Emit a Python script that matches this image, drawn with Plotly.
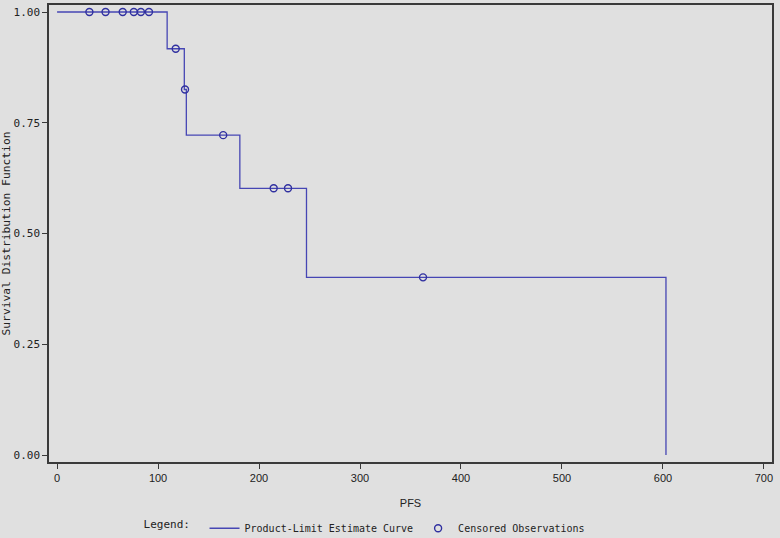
import plotly.graph_objects as go

# Kaplan-Meier step curve (event times and survival estimates)
step_times = [0, 109, 126, 128, 181, 247, 603]
step_surv = [1.0, 0.917, 0.825, 0.722, 0.602, 0.401, 0.0]

# Censored observations
cens_times = [32, 48, 65, 76, 83, 91, 117.5, 126.7, 164.5, 214.5, 228.7, 362.4]
cens_surv = [1.0, 1.0, 1.0, 1.0, 1.0, 1.0, 0.917, 0.825, 0.722, 0.602, 0.602, 0.401]

x_ticks = [0, 100, 200, 300, 400, 500, 600, 700]
y_ticks = [0.0, 0.25, 0.5, 0.75, 1.0]
y_labels = ["0.00", "0.25", "0.50", "0.75", "1.00"]

line_color = "#4646B4"
marker_color = "#3030A0"
bg = "#E0E0E0"
frame = "#3A3A3A"
font_mono = "DejaVu Sans Mono, Liberation Mono, monospace"
font_sans = "Liberation Sans, Arial, sans-serif"

fig = go.Figure()
fig.add_trace(go.Scatter(
    x=step_times, y=step_surv, mode="lines", line_shape="hv",
    line=dict(color=line_color, width=1.3),
    name="Product-Limit Estimate Curve"))
fig.add_trace(go.Scatter(
    x=cens_times, y=cens_surv, mode="markers",
    marker=dict(symbol="circle-open", size=7, color=marker_color, line=dict(width=1.4)),
    name="Censored Observations"))

fig.update_layout(
    width=780, height=538,
    margin=dict(l=49, r=8, t=5, b=76, autoexpand=False),
    paper_bgcolor=bg, plot_bgcolor=bg,
    font=dict(family=font_mono, size=11, color="#222222"),
    showlegend=True,
    legend=dict(orientation="h", x=0.128, y=-0.145, xanchor="left", yanchor="middle",
                title=dict(text="Legend: ", font=dict(size=11, family=font_mono)),
                bgcolor="rgba(0,0,0,0)", font=dict(size=10, family=font_mono),
                itemwidth=30, tracegroupgap=0),
)
fig.update_xaxes(
    range=[-8, 708], tickvals=x_ticks, ticks="outside", ticklen=5, tickcolor=frame,
    showline=True, linecolor=frame, linewidth=1.5, mirror=True, showgrid=False,
    zeroline=False, automargin=False,
    title=dict(text="PFS", standoff=16, font=dict(size=11, family=font_sans)),
    tickfont=dict(family=font_sans, size=11))
fig.update_yaxes(
    range=[-0.0158, 1.0158], tickvals=y_ticks, ticktext=y_labels, ticks="outside",
    ticklen=5, tickcolor=frame,
    showline=True, linecolor=frame, linewidth=1.5, mirror=True, showgrid=False,
    zeroline=False, automargin=False,
    title=dict(text="Survival Distribution Function", standoff=4, font=dict(size=11.3)),
    tickfont=dict(size=11))

post = "document.body.style.margin='0';"

fig.write_html("out.html", post_script=post, config={"displayModeBar": False})
